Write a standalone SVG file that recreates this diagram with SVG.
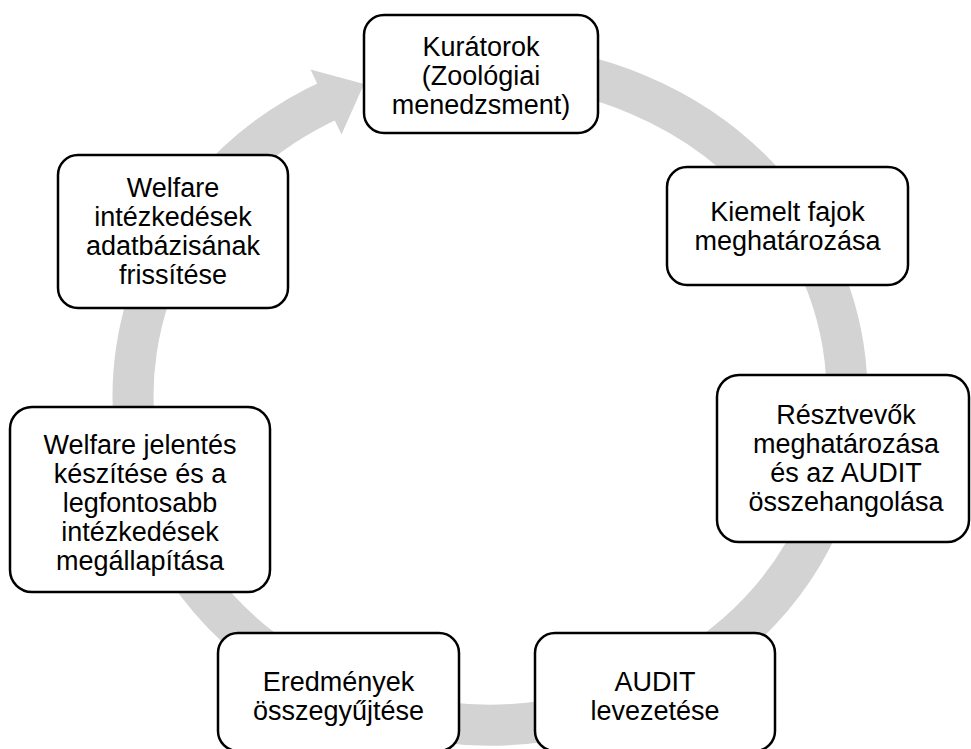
<svg xmlns="http://www.w3.org/2000/svg" width="971" height="749" viewBox="0 0 971 749">
<style>
.node rect{fill:#ffffff;stroke:#000000;stroke-width:2.5}
.node text{font-family:"Liberation Sans",Arial,sans-serif;font-size:27px;fill:#000000;text-anchor:middle}
.ring{fill:none;stroke:#d3d3d3;stroke-width:41}
.head{fill:#d3d3d3}
</style>
<rect width="971" height="749" fill="#ffffff"/>
<g id="connectors">
<path class="ring" d="M 480 65.1 A 357 330 0 1 1 332 99.1"/>
<polygon class="head" points="310.5,69.5 364,84 341.5,134.5"/>
</g>
<g id="node-kuratorok" class="node">
<rect x="364" y="15" width="234" height="118" rx="20"/>
<text x="481" y="56">Kurátorok</text>
<text x="481" y="85">(Zoológiai</text>
<text x="481" y="114">menedzsment)</text>
</g>
<g id="node-kiemelt" class="node">
<rect x="667" y="167" width="241" height="118" rx="20"/>
<text x="787.5" y="221">Kiemelt fajok</text>
<text x="787.5" y="250">meghatározása</text>
</g>
<g id="node-resztvevok" class="node">
<rect x="717" y="375" width="252" height="167" rx="22"/>
<text x="846" y="424">Résztvevők</text>
<text x="846" y="453">meghatározása</text>
<text x="846" y="482">és az AUDIT</text>
<text x="846" y="511">összehangolása</text>
</g>
<g id="node-audit" class="node">
<rect x="535" y="633" width="240" height="118" rx="20"/>
<text x="655" y="691">AUDIT</text>
<text x="655" y="720">levezetése</text>
</g>
<g id="node-eredmenyek" class="node">
<rect x="218" y="633" width="241" height="118" rx="20"/>
<text x="338.5" y="691">Eredmények</text>
<text x="338.5" y="720">összegyűjtése</text>
</g>
<g id="node-welfare-jelentes" class="node">
<rect x="10" y="407" width="260" height="185" rx="22"/>
<text x="140" y="454">Welfare jelentés</text>
<text x="140" y="483">készítése és a</text>
<text x="140" y="512">legfontosabb</text>
<text x="140" y="541">intézkedések</text>
<text x="140" y="570">megállapítása</text>
</g>
<g id="node-welfare-intezkedesek" class="node">
<rect x="58" y="155" width="230" height="153" rx="20"/>
<text x="173" y="197">Welfare</text>
<text x="173" y="226">intézkedések</text>
<text x="173" y="255">adatbázisának</text>
<text x="173" y="284">frissítése</text>
</g>
</svg>
